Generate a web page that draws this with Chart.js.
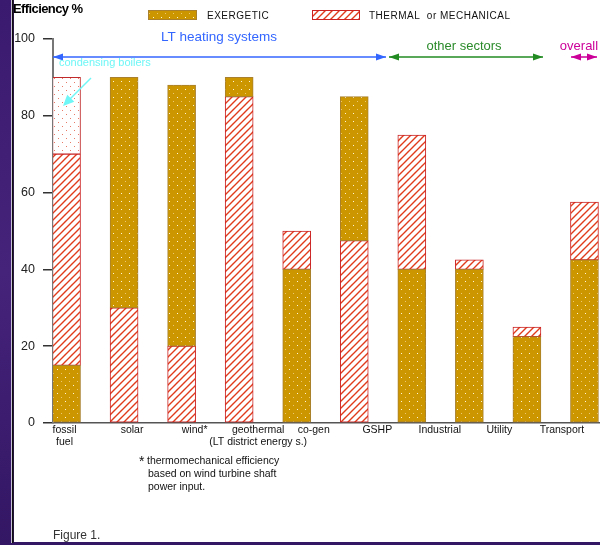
<!DOCTYPE html>
<html>
<head>
<meta charset="utf-8">
<script src="https://cdn.jsdelivr.net/npm/chart.js@4"></script>
<style>
  html, body { margin: 0; padding: 0; background: #3b1d6c; overflow: hidden; }
  canvas { display: block; }
</style>
</head>
<body>
<canvas id="chart" width="600" height="545"></canvas>
<script>
// categorias (cada una en lineas) y valores de eficiencia en %
const categories = [
  ["fossil", "fuel"], ["solar"], ["wind*"], ["geothermal", "(LT district energy s.)"],
  ["co-gen"], ["GSHP"], ["Industrial"], ["Utility"], ["Transport"], [""]
];
// barras flotantes [desde, hasta]
const exergetic = [[0, 15], [30, 90], [20, 88], [85, 90], [0, 40], [47.5, 85], [0, 40], [0, 40], [0, 22.5], [0, 42.5]];
const thermal = [[15, 70], [0, 30], [0, 20], [0, 85], [40, 50], [0, 47.5], [40, 75], [40, 42.5], [22.5, 25], [42.5, 57.5]];
const condensing = [[70, 90], null, null, null, null, null, null, null, null, null];
const yTicks = [0, 20, 40, 60, 80, 100];

// desplazamiento de las etiquetas del eje x respecto a la barra (como en el original)
const labelShift = [-2, 8, 13, 19, 17, 23, 28, 30, 35, 0];

// patrones de relleno
function makePattern(size, draw) {
  const c = document.createElement("canvas");
  c.width = size; c.height = size;
  const g = c.getContext("2d");
  draw(g, size);
  return g.createPattern(c, "repeat");
}

const goldPattern = makePattern(8, (g, s) => {
  g.fillStyle = "#cc9600";
  g.fillRect(0, 0, s, s);
  g.fillStyle = "#fff6d8";
  g.fillRect(1, 1, 1, 1);
  g.fillStyle = "#ecc870";
  g.fillRect(5, 5, 1, 1);
});

const hatchPattern = makePattern(7, (g, s) => {
  g.fillStyle = "#ffffff";
  g.fillRect(0, 0, s, s);
  g.strokeStyle = "#e03c1c";
  g.lineWidth = 1.4;
  g.beginPath();
  g.moveTo(-1, s + 1); g.lineTo(s + 1, -1);
  g.moveTo(-1, 1); g.lineTo(1, -1);
  g.moveTo(s - 1, s + 1); g.lineTo(s + 1, s - 1);
  g.stroke();
});

const dotPattern = makePattern(8, (g, s) => {
  g.fillStyle = "#ffffff";
  g.fillRect(0, 0, s, s);
  g.fillStyle = "#e87a6a";
  g.fillRect(2, 2, 1, 1);
  g.fillRect(6, 6, 1, 1);
});

const toPoints = arr => arr.map((v, i) => v ? { x: i, y: v } : null).filter(p => p);

function arrowHead(ctx, x, y, dx, dy, len, half, color) {
  const n = Math.hypot(dx, dy);
  const ux = dx / n, uy = dy / n;
  ctx.fillStyle = color;
  ctx.beginPath();
  ctx.moveTo(x, y);
  ctx.lineTo(x - ux * len - uy * half, y - uy * len + ux * half);
  ctx.lineTo(x - ux * len + uy * half, y - uy * len - ux * half);
  ctx.closePath();
  ctx.fill();
}

function doubleArrow(ctx, x1, x2, y, color) {
  ctx.strokeStyle = color;
  ctx.lineWidth = 1.5;
  ctx.beginPath();
  ctx.moveTo(x1, y); ctx.lineTo(x2, y);
  ctx.stroke();
  arrowHead(ctx, x1, y, -1, 0, 10, 3.5, color);
  arrowHead(ctx, x2, y, 1, 0, 10, 3.5, color);
}

const FONT = "Arial, 'Liberation Sans', sans-serif";

// fondo morado, textos, leyenda y anotaciones
const decorations = {
  id: "decorations",
  beforeDraw(chart) {
    const ctx = chart.ctx;
    ctx.save();
    const grad = ctx.createLinearGradient(0, 0, 14, 545);
    grad.addColorStop(0, "#3a1a6e");
    grad.addColorStop(0.5, "#45237a");
    grad.addColorStop(1, "#331664");
    ctx.fillStyle = grad;
    ctx.fillRect(0, 0, 600, 545);
    ctx.fillStyle = "#ffffff";
    ctx.fillRect(14, 0, 586, 542);
    ctx.fillStyle = "#c8c0d8";
    ctx.fillRect(11, 0, 1, 543);
    ctx.fillStyle = "#111111";
    ctx.fillRect(12, 0, 1.5, 543);
    ctx.restore();
  },
  afterDraw(chart) {
    const ctx = chart.ctx;
    const xs = chart.scales.x;
    const ys = chart.scales.y;
    ctx.save();
    ctx.textBaseline = "middle";

    // titulo del eje
    ctx.fillStyle = "#000";
    ctx.font = "bold 13px " + FONT;
    ctx.letterSpacing = "-0.6px";
    ctx.textAlign = "left";
    ctx.fillText("Efficiency %", 13, 9);

    // leyenda
    const legendItems = [
      { ds: chart.data.datasets[0], x: 148, w: 48, tx: 207 },
      { ds: chart.data.datasets[1], x: 312, w: 47, tx: 369 }
    ];
    ctx.font = "10px " + FONT;
    legendItems.forEach(item => {
      ctx.fillStyle = item.ds.backgroundColor;
      ctx.fillRect(item.x, 11, item.w, 8);
      ctx.strokeStyle = item.ds.borderColor;
      ctx.lineWidth = 1;
      ctx.strokeRect(item.x + 0.5, 10.5, item.w, 9);
      ctx.fillStyle = "#111";
      ctx.letterSpacing = "0.5px";
      ctx.fillText(item.ds.label, item.tx, 16);
    });
    ctx.letterSpacing = "0px";

    // flechas de grupos
    ctx.font = "13.5px " + FONT;
    ctx.textAlign = "center";
    ctx.fillStyle = "#3366ff";
    ctx.fillText("LT heating systems", 219, 37);
    doubleArrow(ctx, 53, 386, 57, "#3366ff");
    ctx.font = "13px " + FONT;
    ctx.fillStyle = "#2a8a2a";
    ctx.fillText("other sectors", 464, 46);
    doubleArrow(ctx, 389, 543, 57, "#228b22");
    ctx.fillStyle = "#cc0099";
    ctx.fillText("overall", 579, 46);
    doubleArrow(ctx, 571, 597, 57, "#cc0099");

    // calderas de condensacion
    ctx.font = "11px " + FONT;
    ctx.textAlign = "left";
    ctx.fillStyle = "#6ff6f6";
    ctx.fillText("condensing boilers", 59, 63);
    ctx.strokeStyle = "#6ff6f6";
    ctx.lineWidth = 1.5;
    ctx.beginPath();
    ctx.moveTo(91, 78); ctx.lineTo(68, 101);
    ctx.stroke();
    arrowHead(ctx, 63, 106, -1, 1, 11, 5, "#6ff6f6");

    // etiquetas del eje x
    ctx.font = "10.5px " + FONT;
    ctx.fillStyle = "#111";
    ctx.textAlign = "center";
    categories.forEach((lines, i) => {
      const cx = xs.getPixelForValue(i) + labelShift[i];
      lines.forEach((t, j) => ctx.fillText(t, cx, ys.bottom + 7 + j * 12));
    });

    // nota al pie
    ctx.textAlign = "left";
    ctx.font = "14px " + FONT;
    ctx.fillText("*", 139, 462);
    ctx.font = "10.5px " + FONT;
    ctx.fillText("thermomechanical efficiency", 147, 461);
    ctx.fillText("based on wind turbine shaft", 148, 474);
    ctx.fillText("power input.", 148, 487);

    ctx.font = "12px " + FONT;
    ctx.fillStyle = "#333";
    ctx.fillText("Figure 1.", 53, 536);
    ctx.restore();
  }
};

const ctx = document.getElementById("chart").getContext("2d");
new Chart(ctx, {
  type: "bar",
  data: {
    datasets: [
      {
        label: "EXERGETIC",
        data: toPoints(exergetic),
        backgroundColor: goldPattern,
        borderColor: "#a8802e",
        borderWidth: 1
      },
      {
        label: "THERMAL  or MECHANICAL",
        data: toPoints(thermal),
        backgroundColor: hatchPattern,
        borderColor: "#cc2222",
        borderWidth: 1
      },
      {
        label: "condensing boilers",
        data: toPoints(condensing),
        backgroundColor: dotPattern,
        borderColor: "#c02a2a",
        borderWidth: 1
      }
    ]
  },
  options: {
    responsive: false,
    animation: false,
    devicePixelRatio: 1,
    grouped: false,
    barThickness: 28,
    borderSkipped: false,
    layout: { padding: { top: 39, left: 0, right: 0, bottom: 0 } },
    plugins: {
      legend: { display: false },
      title: { display: false },
      tooltip: { enabled: false }
    },
    scales: {
      x: {
        type: "linear",
        offset: false,
        min: -0.235,
        max: 9.27,
        ticks: { display: false },
        grid: { display: false, offset: false },
        border: { display: true, color: "#555", width: 1.5 },
        afterFit: s => { s.height = 122; }
      },
      y: {
        min: 0,
        max: 100,
        afterBuildTicks: s => { s.ticks = yTicks.map(v => ({ value: v })); },
        ticks: {
          color: "#222",
          padding: 8,
          font: { family: FONT, size: 12.5 }
        },
        grid: { drawOnChartArea: false, drawTicks: true, tickLength: 10, color: "#333", lineWidth: 1.5 },
        border: { display: true, color: "#777", width: 2 },
        afterFit: s => { s.width = 53; }
      }
    }
  },
  plugins: [decorations]
});
</script>
</body>
</html>
